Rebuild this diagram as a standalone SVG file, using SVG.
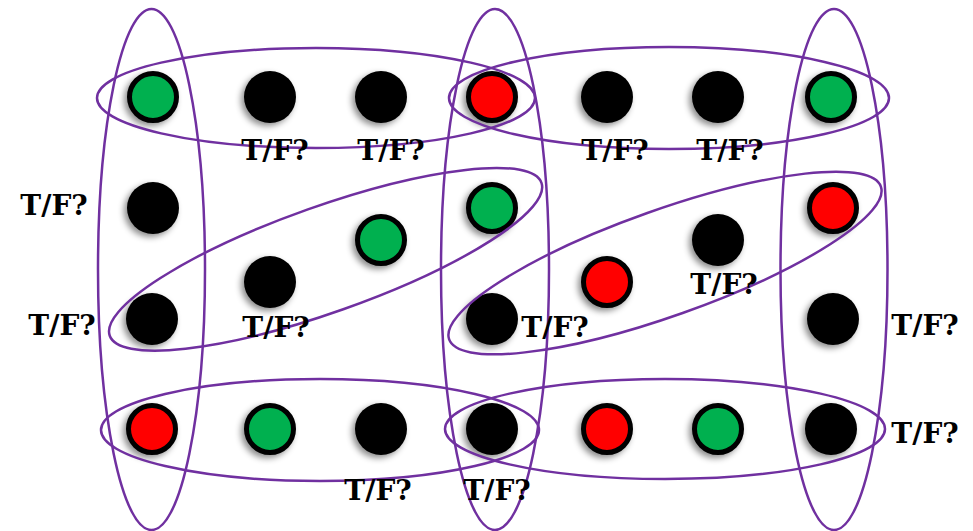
<svg xmlns="http://www.w3.org/2000/svg" width="973" height="531" viewBox="0 0 973 531">
<defs>
<filter id="sh" x="-50%" y="-50%" width="200%" height="200%">
<feDropShadow dx="-3" dy="3" stdDeviation="3" flood-color="#000" flood-opacity="0.45"/>
</filter>
<style>
.blk{fill:#000;filter:url(#sh)}
.grn{fill:#00B050;stroke:#000;stroke-width:5;filter:url(#sh)}
.red{fill:#FF0000;stroke:#000;stroke-width:5;filter:url(#sh)}
.set{fill:none;stroke:#7030A0;stroke-width:2.5}
.lbl{font-family:"DejaVu Serif","Liberation Serif",serif;font-weight:bold;font-size:28px;fill:#000;text-anchor:middle}
</style>
</defs>
<rect width="973" height="531" fill="#fff"/>
<g id="nodes">
<g id="n1"><circle class="grn" cx="153" cy="97" r="23.5"/></g>
<g id="n2"><circle class="blk" cx="270" cy="97" r="26"/></g>
<g id="n3"><circle class="blk" cx="381" cy="97" r="26"/></g>
<g id="n4"><circle class="red" cx="492" cy="97" r="23.5"/></g>
<g id="n5"><circle class="blk" cx="607" cy="97" r="26"/></g>
<g id="n6"><circle class="blk" cx="718" cy="97" r="26"/></g>
<g id="n7"><circle class="grn" cx="831" cy="97" r="23.5"/></g>
<g id="n8"><circle class="blk" cx="153" cy="208" r="26"/></g>
<g id="n9"><circle class="grn" cx="492" cy="208" r="23.5"/></g>
<g id="n10"><circle class="red" cx="833" cy="208" r="23.5"/></g>
<g id="n11"><circle class="grn" cx="381" cy="240" r="23.5"/></g>
<g id="n12"><circle class="blk" cx="718" cy="240" r="26"/></g>
<g id="n13"><circle class="blk" cx="270" cy="282" r="26"/></g>
<g id="n14"><circle class="red" cx="607" cy="282" r="23.5"/></g>
<g id="n15"><circle class="blk" cx="152" cy="319" r="26"/></g>
<g id="n16"><circle class="blk" cx="492" cy="319" r="26"/></g>
<g id="n17"><circle class="blk" cx="833" cy="319" r="26"/></g>
<g id="n18"><circle class="red" cx="152" cy="429" r="23.5"/></g>
<g id="n19"><circle class="grn" cx="270" cy="429" r="23.5"/></g>
<g id="n20"><circle class="blk" cx="381" cy="429" r="26"/></g>
<g id="n21"><circle class="blk" cx="492" cy="429" r="26"/></g>
<g id="n22"><circle class="red" cx="607" cy="429" r="23.5"/></g>
<g id="n23"><circle class="grn" cx="718" cy="429" r="23.5"/></g>
<g id="n24"><circle class="blk" cx="831" cy="429" r="26"/></g>
</g>
<g id="connectors">
<ellipse class="set" cx="151.5" cy="269.5" rx="53.5" ry="260.5"/>
<ellipse class="set" cx="495" cy="269.5" rx="54" ry="260.5"/>
<ellipse class="set" cx="834" cy="269.5" rx="53.5" ry="260.5"/>
<ellipse class="set" cx="316" cy="98" rx="219" ry="50"/>
<ellipse class="set" cx="669" cy="98" rx="220" ry="51"/>
<ellipse class="set" cx="320" cy="430" rx="219" ry="51"/>
<ellipse class="set" cx="665" cy="429" rx="220" ry="50"/>
<ellipse class="set" cx="325.6" cy="259.3" rx="229" ry="53" transform="rotate(-19.5 325.6 259.3)"/>
<ellipse class="set" cx="665" cy="263" rx="229" ry="53" transform="rotate(-19.5 665 263)"/>
</g>
<g id="labels">
<text class="lbl" x="275" y="160">T/F?</text>
<text class="lbl" x="391" y="160">T/F?</text>
<text class="lbl" x="615" y="160">T/F?</text>
<text class="lbl" x="730" y="160">T/F?</text>
<text class="lbl" x="54" y="215">T/F?</text>
<text class="lbl" x="62" y="335">T/F?</text>
<text class="lbl" x="276" y="337">T/F?</text>
<text class="lbl" x="555" y="337">T/F?</text>
<text class="lbl" x="724" y="294">T/F?</text>
<text class="lbl" x="925" y="335">T/F?</text>
<text class="lbl" x="925" y="443">T/F?</text>
<text class="lbl" x="378" y="500">T/F?</text>
<text class="lbl" x="497" y="500">T/F?</text>
</g>
</svg>
